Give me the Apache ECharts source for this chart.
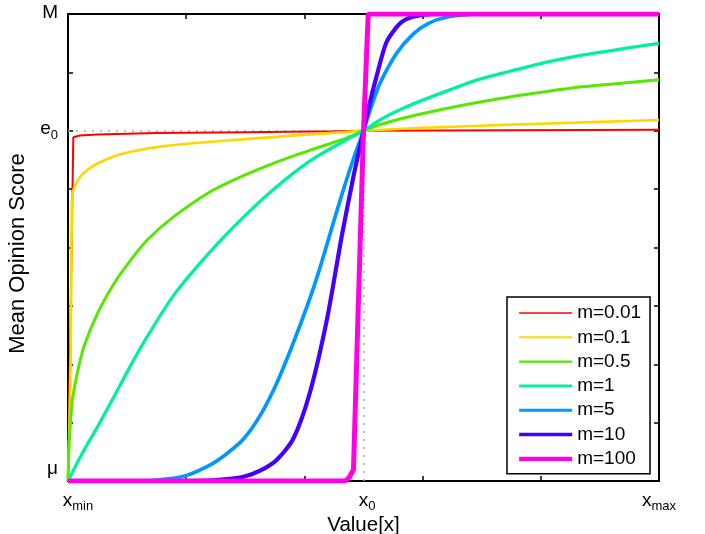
<!DOCTYPE html>
<html>
<head>
<meta charset="utf-8">
<script src="https://cdn.jsdelivr.net/npm/echarts@6/dist/echarts.min.js"></script>
<style>
  html, body { margin: 0; padding: 0; background: #fff; }
  #chart { width: 705px; height: 534px; }
</style>
</head>
<body>
<div id="chart"></div>
<script>
// 曲线数据 (x: xmin=0 .. xmax=1, y: mu=0 .. M=1)
var X0 = 0.5, E0 = 0.75;
var names = ['m=0.01', 'm=0.1', 'm=0.5', 'm=1', 'm=5', 'm=10', 'm=100'];
var colors = ['#ff0000', '#ffd700', '#55e800', '#00f0a0', '#0098ff', '#4400ff', '#ff00e6'];
var widths = [2, 2.7, 3, 3.3, 3.7, 4.2, 5];
var legendWidths = [1.7, 2, 2.3, 2.7, 3, 3.7, 4.3];

var m001 = [[0,0],[0.009,0.736],[0.02,0.740],[0.05,0.742],[0.15,0.745],[0.3,0.747],[0.45,0.749],[0.5,0.75],[0.75,0.751],[1,0.752]];
var m01 = [[0,0],[0.002,0.1],[0.0045,0.26],[0.007,0.609],[0.012,0.632],[0.021,0.652],[0.035,0.668],[0.05,0.680],[0.075,0.694],
    [0.106,0.705],[0.162,0.717],[0.247,0.727],[0.353,0.737],[0.43,0.744],[0.5,0.75],[0.6,0.756],[0.75,0.763],[0.9,0.769],[1,0.773]];
var m05 = [[0,0],[0.0017,0.073],[0.0045,0.131],[0.0073,0.173],[0.0157,0.231],[0.027,0.288],[0.05,0.359],[0.078,0.423],[0.106,0.473],
    [0.134,0.516],[0.179,0.566],[0.24,0.619],[0.297,0.654],[0.353,0.683],[0.409,0.708],[0.466,0.732],[0.5,0.75],[0.53,0.764],
    [0.57,0.778],[0.63,0.795],[0.69,0.81],[0.75,0.823],[0.81,0.834],[0.87,0.844],[0.94,0.852],[1,0.859]];
var m1 = [[0,0],[0.024,0.059],[0.05,0.116],[0.078,0.181],[0.106,0.247],[0.134,0.309],[0.179,0.398],[0.24,0.49],[0.297,0.565],
    [0.353,0.63],[0.409,0.685],[0.466,0.727],[0.5,0.75],[0.53,0.775],[0.57,0.80],[0.63,0.83],[0.69,0.858],[0.75,0.878],
    [0.81,0.897],[0.87,0.912],[0.94,0.926],[1,0.937]];
var m5 = [[0,0],[0.1,0],[0.15,0.002],[0.196,0.01],[0.24,0.034],[0.268,0.058],[0.297,0.09],[0.325,0.14],[0.353,0.209],[0.381,0.295],
    [0.409,0.39],[0.426,0.455],[0.446,0.54],[0.465,0.62],[0.483,0.69],[0.5,0.75],[0.514,0.805],[0.528,0.852],[0.556,0.916],
    [0.584,0.957],[0.61,0.98],[0.64,0.993],[0.68,0.999],[0.75,1],[1,1]];
var m10 = [[0,0],[0.2,0],[0.25,0.002],[0.297,0.009],[0.325,0.022],[0.353,0.045],[0.381,0.09],[0.409,0.188],[0.438,0.345],
    [0.463,0.523],[0.483,0.652],[0.5,0.75],[0.511,0.812],[0.522,0.866],[0.539,0.94],[0.562,0.98],[0.584,0.994],[0.62,1],[1,1]];
var m100 = [[0,0],[0.469,0],[0.476,0.008],[0.483,0.024],[0.5,0.75],[0.508,1],[1,1]];
var curves = [m001, m01, m05, m1, m5, m10, m100];

// 刻度标签
var xLabels = { 0: '{g20| }{t|x}{s|min}', 0.5: '{g7| }{t|x}{s|0}', 1: '{t|x}{s|max}' };
var yLabels = { 0: '{mu|μ}', 0.75: '{t|e}{s|0}', 1: '{t|M}' };

var font = 'Liberation Sans, Arial, sans-serif';
var myChart = echarts.init(document.getElementById('chart'));

var series = curves.map(function (d, i) {
    var s = {
        name: names[i],
        type: 'line',
        data: d,
        symbol: 'none',
        smooth: (i == 0 || i == 6) ? false : 0.25,
        color: colors[i],
        lineStyle: { color: colors[i], width: widths[i] },
        z: 3 + i
    };
    if (i == 0) {
        s.markLine = {
            silent: true,
            symbol: 'none',
            label: { show: false },
            lineStyle: { color: '#aaa', width: 1.5, type: [2, 6] },
            z: 1,
            data: [
                [{ coord: [0, E0] }, { coord: [X0, E0] }],
                [{ coord: [X0, 0] }, { coord: [X0, E0] }]
            ]
        };
    }
    return s;
});

var tickAxis = {
    type: 'value', min: 0, max: 1,
    axisLine: { show: true, onZero: false, lineStyle: { color: '#000', width: 2 } },
    axisTick: { show: true, inside: true, length: 5, lineStyle: { color: '#000', width: 1.5 } },
    axisLabel: { show: false },
    splitLine: { show: false }
};

var labelRich = {
    g20: { width: 20, fontSize: 19, lineHeight: 22 },
    g7: { width: 7, fontSize: 19, lineHeight: 22 },
    t: { fontSize: 19, lineHeight: 22, verticalAlign: 'top', color: '#000', fontFamily: font },
    s: { fontSize: 13, lineHeight: 12, verticalAlign: 'bottom', color: '#000', fontFamily: font },
    mu: { fontSize: 19, lineHeight: 22, padding: [0, 0, 24, 0], color: '#000', fontFamily: font }
};

myChart.setOption({
    animation: false,
    textStyle: { fontFamily: font },
    grid: { left: 68, right: 46, top: 14, bottom: 53, containLabel: false, outerBoundsMode: 'none' },
    legend: {
        orient: 'vertical',
        left: 507, top: 297,
        padding: [6, 9, 5, 10],
        itemWidth: 53, itemHeight: 14, itemGap: 4.3,
        borderColor: '#000', borderWidth: 1.5,
        backgroundColor: '#fff',
        itemStyle: { opacity: 0 },
        textStyle: { fontSize: 19, lineHeight: 20, color: '#000', fontFamily: font },
        data: names.map(function (n, i) {
            return { name: n, lineStyle: { width: legendWidths[i] }, itemStyle: { opacity: 0 } };
        })
    },
    xAxis: [
        Object.assign({}, tickAxis, { position: 'bottom', interval: 0.2,
            name: 'Value[x]', nameLocation: 'middle', nameGap: 34,
            nameTextStyle: { fontSize: 20.5, color: '#000', fontFamily: font } }),
        Object.assign({}, tickAxis, { position: 'top', interval: 0.2 }),
        {
            type: 'value', min: 0, max: 1, interval: 0.5, position: 'bottom',
            axisLine: { show: false }, axisTick: { show: false }, splitLine: { show: false },
            axisLabel: {
                margin: 10, color: '#000', fontFamily: font,
                formatter: function (v) { return xLabels[v] || ''; },
                rich: labelRich
            }
        }
    ],
    yAxis: [
        Object.assign({}, tickAxis, { position: 'left', interval: 0.125,
            name: 'Mean Opinion Score', nameLocation: 'middle', nameGap: 39,
            nameTextStyle: { fontSize: 22, color: '#000', fontFamily: font, padding: [0, 12, 0, 0] } }),
        Object.assign({}, tickAxis, { position: 'right', interval: 0.125 }),
        {
            type: 'value', min: 0, max: 1, interval: 0.25, position: 'left',
            axisLine: { show: false }, axisTick: { show: false }, splitLine: { show: false },
            axisLabel: {
                margin: 10, color: '#000',
                formatter: function (v) { return yLabels[v] || ''; },
                rich: labelRich
            }
        }
    ],
    series: series
});
</script>
</body>
</html>
